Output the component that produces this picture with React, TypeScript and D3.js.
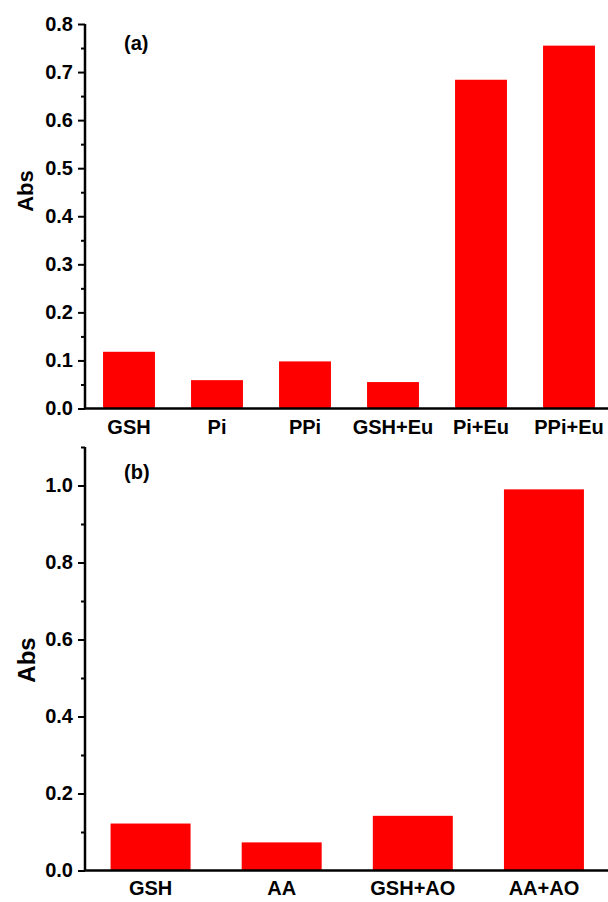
import React, { useEffect, useRef } from "react";
import * as d3 from "d3";

// panel (a)
const catsA = ["GSH", "Pi", "PPi", "GSH+Eu", "Pi+Eu", "PPi+Eu"];
const valsA = [0.118, 0.059, 0.098, 0.055, 0.684, 0.755];
const ticksA = [0, 0.1, 0.2, 0.3, 0.4, 0.5, 0.6, 0.7, 0.8];

// panel (b)
const catsB = ["GSH", "AA", "GSH+AO", "AA+AO"];
const valsB = [0.122, 0.073, 0.142, 0.99];
const ticksB = [0, 0.2, 0.4, 0.6, 0.8, 1.0];

const W = 608;
const H = 902;
const FONT = "'Liberation Sans', Arial, sans-serif";

function drawPanel(svg, opts) {
  const { cats, vals, ticks, yMax, top, bottom, left, right, pad, tag, tagY, labelSize, labelX, labelY, minorStep, xPad } = opts;

  const x = d3.scaleBand().domain(cats).range([left, right]).paddingInner(pad).paddingOuter(pad / 2);
  const y = d3.scaleLinear().domain([0, yMax]).range([bottom, top]);

  const g = svg.append("g");

  g.selectAll("rect")
    .data(cats)
    .enter()
    .append("rect")
    .attr("x", (d) => x(d))
    .attr("width", x.bandwidth())
    .attr("y", (d, i) => y(vals[i]))
    .attr("height", (d, i) => y(0) - y(vals[i]))
    .attr("fill", "#ff0000");

  // minor ticks
  const minor = d3.range(minorStep / 2, yMax + 1e-9, minorStep).filter(
    (v) => !ticks.some((t) => Math.abs(t - v) < 1e-6)
  );
  const yAxisMinor = d3.axisLeft(y).tickValues(minor).tickSize(4).tickFormat(() => "");
  g.append("g").attr("transform", `translate(${left},0)`).call(yAxisMinor)
    .call((a) => a.select(".domain").remove())
    .call((a) => a.selectAll("line").attr("stroke-width", 2));

  const yAxis = d3.axisLeft(y).tickValues(ticks).tickSize(7).tickPadding(5).tickFormat(d3.format(".1f"));
  const ya = g.append("g").attr("transform", `translate(${left},0)`).call(yAxis);
  ya.select(".domain").attr("stroke-width", 2.5).attr("d", `M0,${top}V${bottom}`);
  ya.selectAll("line").attr("stroke-width", 2);
  ya.selectAll("text")
    .attr("font-family", FONT)
    .attr("font-weight", "bold")
    .attr("font-size", 20)
    .attr("fill", "#000");

  // x axis, no ticks
  const xAxis = d3.axisBottom(x).tickSize(0).tickPadding(xPad);
  const xa = g.append("g").attr("transform", `translate(0,${bottom})`).call(xAxis);
  xa.select(".domain").attr("stroke-width", 2.5).attr("d", `M${left - 1},0H${W + 10}`);
  xa.selectAll("text")
    .attr("font-family", FONT)
    .attr("font-weight", "bold")
    .attr("font-size", 20)
    .attr("fill", "#000");

  g.append("text")
    .attr("transform", `translate(${labelX},${labelY}) rotate(-90)`)
    .attr("text-anchor", "middle")
    .attr("font-family", FONT)
    .attr("font-weight", "bold")
    .attr("font-size", labelSize)
    .text("Abs");

  g.append("text")
    .attr("x", 124)
    .attr("y", tagY)
    .attr("font-family", FONT)
    .attr("font-weight", "bold")
    .attr("font-size", 20)
    .text(tag);
}

export default function App() {
  const ref = useRef(null);

  useEffect(() => {
    document.body.style.margin = "0";
    const svg = d3.select(ref.current);
    svg.selectAll("*").remove();

    drawPanel(svg, {
      cats: catsA, vals: valsA, ticks: ticksA, yMax: 0.8,
      top: 24, bottom: 408.5, left: 85, right: 613, pad: 0.41,
      tag: "(a)", tagY: 50, labelSize: 22, labelX: 33, labelY: 191, minorStep: 0.1, xPad: 11,
    });

    drawPanel(svg, {
      cats: catsB, vals: valsB, ticks: ticksB, yMax: 1.1,
      top: 447, bottom: 870.5, left: 85, right: 609.5, pad: 0.39,
      tag: "(b)", tagY: 479, labelSize: 24, labelX: 35, labelY: 660, minorStep: 0.2, xPad: 10,
    });
  }, []);

  return <svg ref={ref} width={W} height={H} style={{ display: "block", background: "#fff" }} />;
}
